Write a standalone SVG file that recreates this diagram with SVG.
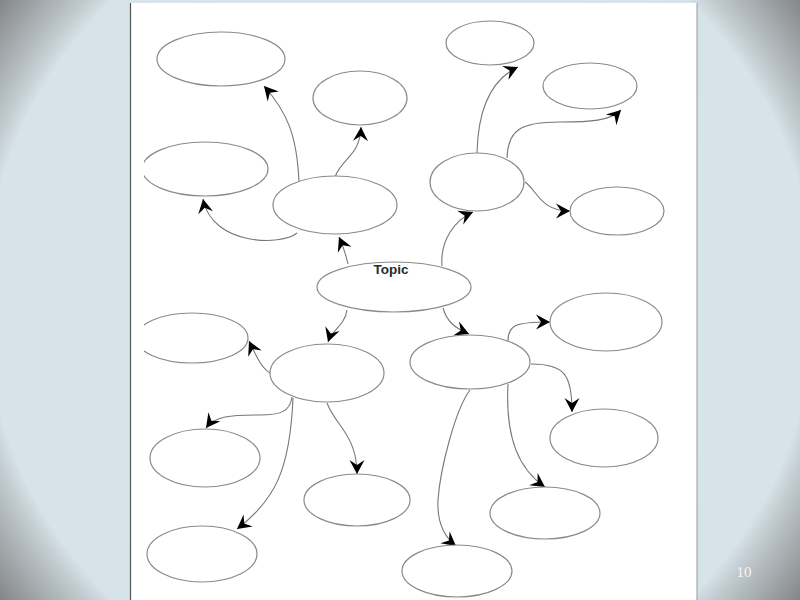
<svg xmlns="http://www.w3.org/2000/svg" width="800" height="600" viewBox="0 0 800 600">
<defs>
<radialGradient id="bg" gradientUnits="userSpaceOnUse" cx="400" cy="300" r="500">
<stop offset="0" stop-color="#d8e5eb"/>
<stop offset="0.83" stop-color="#d6e3e8"/>
<stop offset="0.87" stop-color="#c0c9cd"/>
<stop offset="1" stop-color="#848687"/>
</radialGradient>
<marker id="ah" markerUnits="userSpaceOnUse" markerWidth="18" markerHeight="18" viewBox="-16 -9 18 18" refX="0" refY="0" orient="auto">
<path d="M0,0 L-14,-7.5 L-9,0 L-14,7.5 Z" fill="#000"/>
</marker>
<clipPath id="pg"><rect x="144" y="3" width="553" height="597"/></clipPath>
</defs>
<style>
.n{fill:#fff;stroke:#8a8a8a;stroke-width:1.2}
.c{fill:none;stroke:#777;stroke-width:1.1;marker-end:url(#ah)}
.t{font-family:"Liberation Sans",Arial,sans-serif;font-size:13.5px;font-weight:bold;fill:#2a2a2a}
</style>
<rect width="800" height="600" fill="url(#bg)"/>
<rect x="130" y="3" width="567" height="600" fill="#fff"/>
<line x1="130.5" y1="3" x2="130.5" y2="600" stroke="#555" stroke-width="1.2"/>
<line x1="697" y1="3" x2="697" y2="600" stroke="#999" stroke-width="1"/>
<g id="connectors">
<path class="c" d="M299,182 C297,135 287,112 264,86"/>
<path class="c" d="M335,177 C342,158 360,156 361,127"/>
<path class="c" d="M297,233 C282,246 212,246 203,199"/>
<path class="c" d="M348,264 C346,255 343,246 339,237"/>
<path class="c" d="M442,266 C440,240 455,220 473,212"/>
<path class="c" d="M477,153 C478,110 490,80 518,67"/>
<path class="c" d="M507,158 C508,130 520,122 560,122 C590,122 610,121 621,110"/>
<path class="c" d="M525,182 C537,190 540,211 570,211"/>
<path class="c" d="M347,310 C345,325 332,330 328,342"/>
<path class="c" d="M443,308 C447,322 455,328 469,334"/>
<path class="c" d="M270,373 C262,368 258,360 249,341"/>
<path class="c" d="M292,397 C290,412 280,415 260,415 C230,415 215,416 206,428"/>
<path class="c" d="M293,398 C290,470 275,500 237,529"/>
<path class="c" d="M327,403 C335,425 357,435 357,474"/>
<path class="c" d="M508,341 C508,325 515,322 550,322"/>
<path class="c" d="M531,364 C565,364 572,375 572,412"/>
<path class="c" d="M508,384 C505,440 520,470 545,487"/>
<path class="c" d="M470,390 C455,410 440,470 438,500 C437,520 442,535 456,546"/>
</g>
<g id="n1"><ellipse class="n" cx="221" cy="59" rx="64" ry="27"/></g>
<g id="n2"><ellipse class="n" cx="360" cy="98" rx="47" ry="27"/></g>
<g id="n3" clip-path="url(#pg)"><ellipse class="n" cx="205" cy="169" rx="63" ry="27"/></g>
<g id="n4"><ellipse class="n" cx="335" cy="205" rx="62" ry="29"/></g>
<g id="topic"><ellipse class="n" cx="394" cy="287" rx="77" ry="25"/><text class="t" x="391" y="274" text-anchor="middle">Topic</text></g>
<g id="n6"><ellipse class="n" cx="490" cy="43" rx="44" ry="22"/></g>
<g id="n7"><ellipse class="n" cx="590" cy="86" rx="47" ry="23"/></g>
<g id="n8"><ellipse class="n" cx="477" cy="182" rx="47" ry="29"/></g>
<g id="n9"><ellipse class="n" cx="617" cy="211" rx="47" ry="24"/></g>
<g id="n10" clip-path="url(#pg)"><ellipse class="n" cx="192" cy="338" rx="56" ry="25"/></g>
<g id="n11"><ellipse class="n" cx="327" cy="373" rx="57" ry="29"/></g>
<g id="n12"><ellipse class="n" cx="205" cy="458" rx="55" ry="29"/></g>
<g id="n13"><ellipse class="n" cx="357" cy="500" rx="53" ry="26"/></g>
<g id="n14"><ellipse class="n" cx="202" cy="554" rx="55" ry="28"/></g>
<g id="n15"><ellipse class="n" cx="470" cy="362" rx="60" ry="27"/></g>
<g id="n16"><ellipse class="n" cx="606" cy="322" rx="56" ry="29"/></g>
<g id="n17"><ellipse class="n" cx="604" cy="438" rx="54" ry="29"/></g>
<g id="n18"><ellipse class="n" cx="545" cy="513" rx="55" ry="26"/></g>
<g id="n19"><ellipse class="n" cx="457" cy="571" rx="55" ry="26"/></g>
<text x="744" y="577" text-anchor="middle" font-family="Liberation Serif,serif" font-size="15" fill="#f4f6f7">10</text>
</svg>
